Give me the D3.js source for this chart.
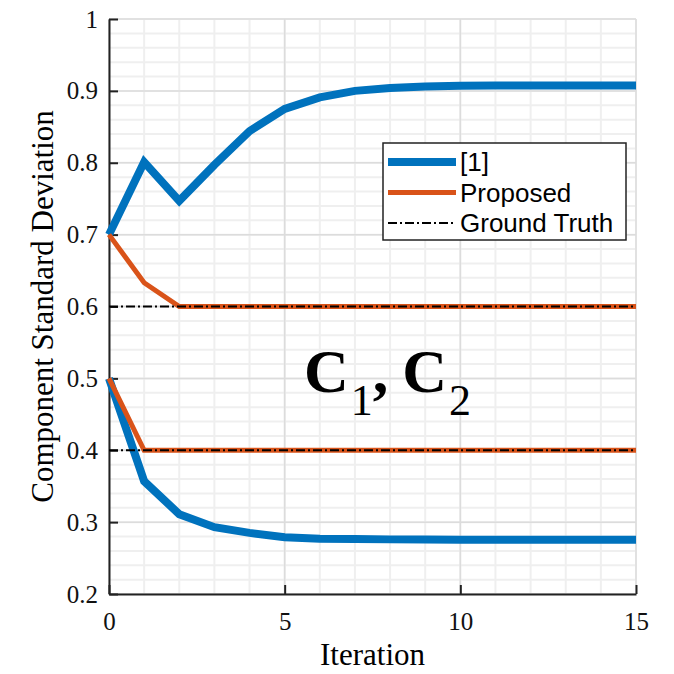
<!DOCTYPE html>
<html>
<head>
<meta charset="utf-8">
<script src="https://cdn.jsdelivr.net/npm/d3@7"></script>
<style>
  body { margin: 0; background: #fff; }
  svg { display: block; }
</style>
</head>
<body>
<svg id="chart"></svg>
<script>
// iterations 0..15
var iterations = d3.range(0, 16);

// [1] method, both components
var refHigh = [0.700, 0.801, 0.747, 0.797, 0.844, 0.875, 0.891, 0.900, 0.904, 0.906, 0.907, 0.9075, 0.9075, 0.9075, 0.9075, 0.9075];
var refLow  = [0.500, 0.357, 0.311, 0.293, 0.285, 0.279, 0.277, 0.2765, 0.276, 0.276, 0.2755, 0.2755, 0.2755, 0.2755, 0.2755, 0.2755];

// proposed method
var propHigh = [0.700, 0.633, 0.600, 0.600, 0.600, 0.600, 0.600, 0.600, 0.600, 0.600, 0.600, 0.600, 0.600, 0.600, 0.600, 0.600];
var propLow  = [0.500, 0.400, 0.400, 0.400, 0.400, 0.400, 0.400, 0.400, 0.400, 0.400, 0.400, 0.400, 0.400, 0.400, 0.400, 0.400];

// ground truth
var truth = [0.6, 0.4];

var xTicks = [0, 5, 10, 15];
var yTicks = [0.2, 0.3, 0.4, 0.5, 0.6, 0.7, 0.8, 0.9, 1];

var legendNames = ["[1]", "Proposed", "Ground Truth"];

var W = 674, H = 674;
var margin = {top: 19, right: 38, bottom: 80, left: 109};
var width = W - margin.left - margin.right,
    height = H - margin.top - margin.bottom;

var blue = "#0072BD", orange = "#D95319";
var serif = "'Liberation Serif', 'DejaVu Serif', serif";

var svg = d3.select("#chart").attr("width", W).attr("height", H);
var g = svg.append("g")
    .attr("transform", "translate(" + margin.left + "," + margin.top + ")");

var x = d3.scaleLinear().domain([0, 15]).range([0, width]);
var y = d3.scaleLinear().domain([0.2, 1]).range([height, 0]);

// minor grid
g.append("g").selectAll("line")
    .data(d3.range(0, 16))
    .enter().append("line")
    .attr("x1", function(d) { return x(d); }).attr("x2", function(d) { return x(d); })
    .attr("y1", 0).attr("y2", height)
    .attr("stroke", "#efefef").attr("stroke-width", 2);
g.append("g").selectAll("line")
    .data(d3.range(0, 41).map(function(i) { return 0.2 + i * 0.02; }))
    .enter().append("line")
    .attr("x1", 0).attr("x2", width)
    .attr("y1", function(d) { return y(d); }).attr("y2", function(d) { return y(d); })
    .attr("stroke", "#efefef").attr("stroke-width", 2);

// major grid
g.append("g").selectAll("line")
    .data(xTicks)
    .enter().append("line")
    .attr("x1", function(d) { return x(d); }).attr("x2", function(d) { return x(d); })
    .attr("y1", 0).attr("y2", height)
    .attr("stroke", "#dcdcdc").attr("stroke-width", 1.5);
g.append("g").selectAll("line")
    .data(yTicks)
    .enter().append("line")
    .attr("x1", 0).attr("x2", width)
    .attr("y1", function(d) { return y(d); }).attr("y2", function(d) { return y(d); })
    .attr("stroke", "#dcdcdc").attr("stroke-width", 1.5);

// axes
var xAxis = g.append("g")
    .attr("transform", "translate(0," + height + ")")
    .call(d3.axisBottom(x).tickValues(xTicks).tickSizeInner(-9).tickSizeOuter(0).tickPadding(18));
var yAxis = g.append("g")
    .call(d3.axisLeft(y).tickValues(yTicks).tickSizeInner(-9).tickSizeOuter(0).tickPadding(11)
        .tickFormat(function(d) { return d === 1 ? "1" : d3.format(".1f")(d); }));

[xAxis, yAxis].forEach(function(a) {
    a.attr("font-family", serif).attr("font-size", 25);
    a.select(".domain").attr("stroke", "#222").attr("stroke-width", 2);
    a.selectAll(".tick line").attr("stroke", "#222").attr("stroke-width", 2);
    a.selectAll(".tick text").attr("fill", "#111");
});
xAxis.selectAll(".tick text").attr("dy", "0.71em");

// lines
var line = d3.line()
    .x(function(d, i) { return x(iterations[i]); })
    .y(function(d) { return y(d); });

[refHigh, refLow].forEach(function(s) {
    g.append("path").datum(s)
        .attr("d", line).attr("fill", "none")
        .attr("stroke", blue).attr("stroke-width", 8)
        .attr("stroke-linejoin", "miter");
});
[propHigh, propLow].forEach(function(s) {
    g.append("path").datum(s)
        .attr("d", line).attr("fill", "none")
        .attr("stroke", orange).attr("stroke-width", 5);
});
truth.forEach(function(t) {
    g.append("line")
        .attr("x1", x(0)).attr("x2", x(15))
        .attr("y1", y(t)).attr("y2", y(t))
        .attr("stroke", "#000").attr("stroke-width", 2)
        .attr("stroke-dasharray", "9,3,2,3");
});

// axis labels
svg.append("text")
    .attr("x", margin.left + width / 2).attr("y", 665)
    .attr("text-anchor", "middle")
    .attr("font-family", serif)
    .attr("font-size", 31)
    .text("Iteration");
svg.append("text")
    .attr("transform", "translate(53," + (margin.top + height / 2) + ") rotate(-90)")
    .attr("text-anchor", "middle")
    .attr("font-family", serif)
    .attr("font-size", 31)
    .text("Component Standard Deviation");

// annotation
var ann = svg.append("text")
    .attr("x", 304).attr("y", 392)
    .attr("font-family", serif)
    .attr("font-weight", "bold")
    .attr("font-size", 62);
ann.append("tspan").text("C");
ann.append("tspan").attr("dy", 23).attr("dx", 2).attr("font-size", 44).attr("font-weight", "normal").text("1");
ann.append("tspan").attr("dy", -23).text(",");
ann.append("tspan").attr("dx", 14).text("C");
ann.append("tspan").attr("dy", 23).attr("dx", 2).attr("font-size", 44).attr("font-weight", "normal").text("2");

// legend
var lg = svg.append("g").attr("transform", "translate(383,143)");
lg.append("rect")
    .attr("width", 243).attr("height", 97)
    .attr("fill", "#fff").attr("stroke", "#222").attr("stroke-width", 1.5);
var legStyles = [
    {stroke: blue, w: 8, dash: null},
    {stroke: orange, w: 5, dash: null},
    {stroke: "#000", w: 2, dash: "9,3,2,3"}
];
legendNames.forEach(function(name, i) {
    var yy = 19 + i * 30.5;
    lg.append("line")
        .attr("x1", 5).attr("x2", 73).attr("y1", yy).attr("y2", yy)
        .attr("stroke", legStyles[i].stroke).attr("stroke-width", legStyles[i].w)
        .attr("stroke-dasharray", legStyles[i].dash);
    lg.append("text")
        .attr("x", 77).attr("y", yy).attr("dy", "0.36em")
        .attr("font-family", "'Liberation Sans', Arial, sans-serif")
        .attr("font-size", 26)
        .text(name);
});
</script>
</body>
</html>
